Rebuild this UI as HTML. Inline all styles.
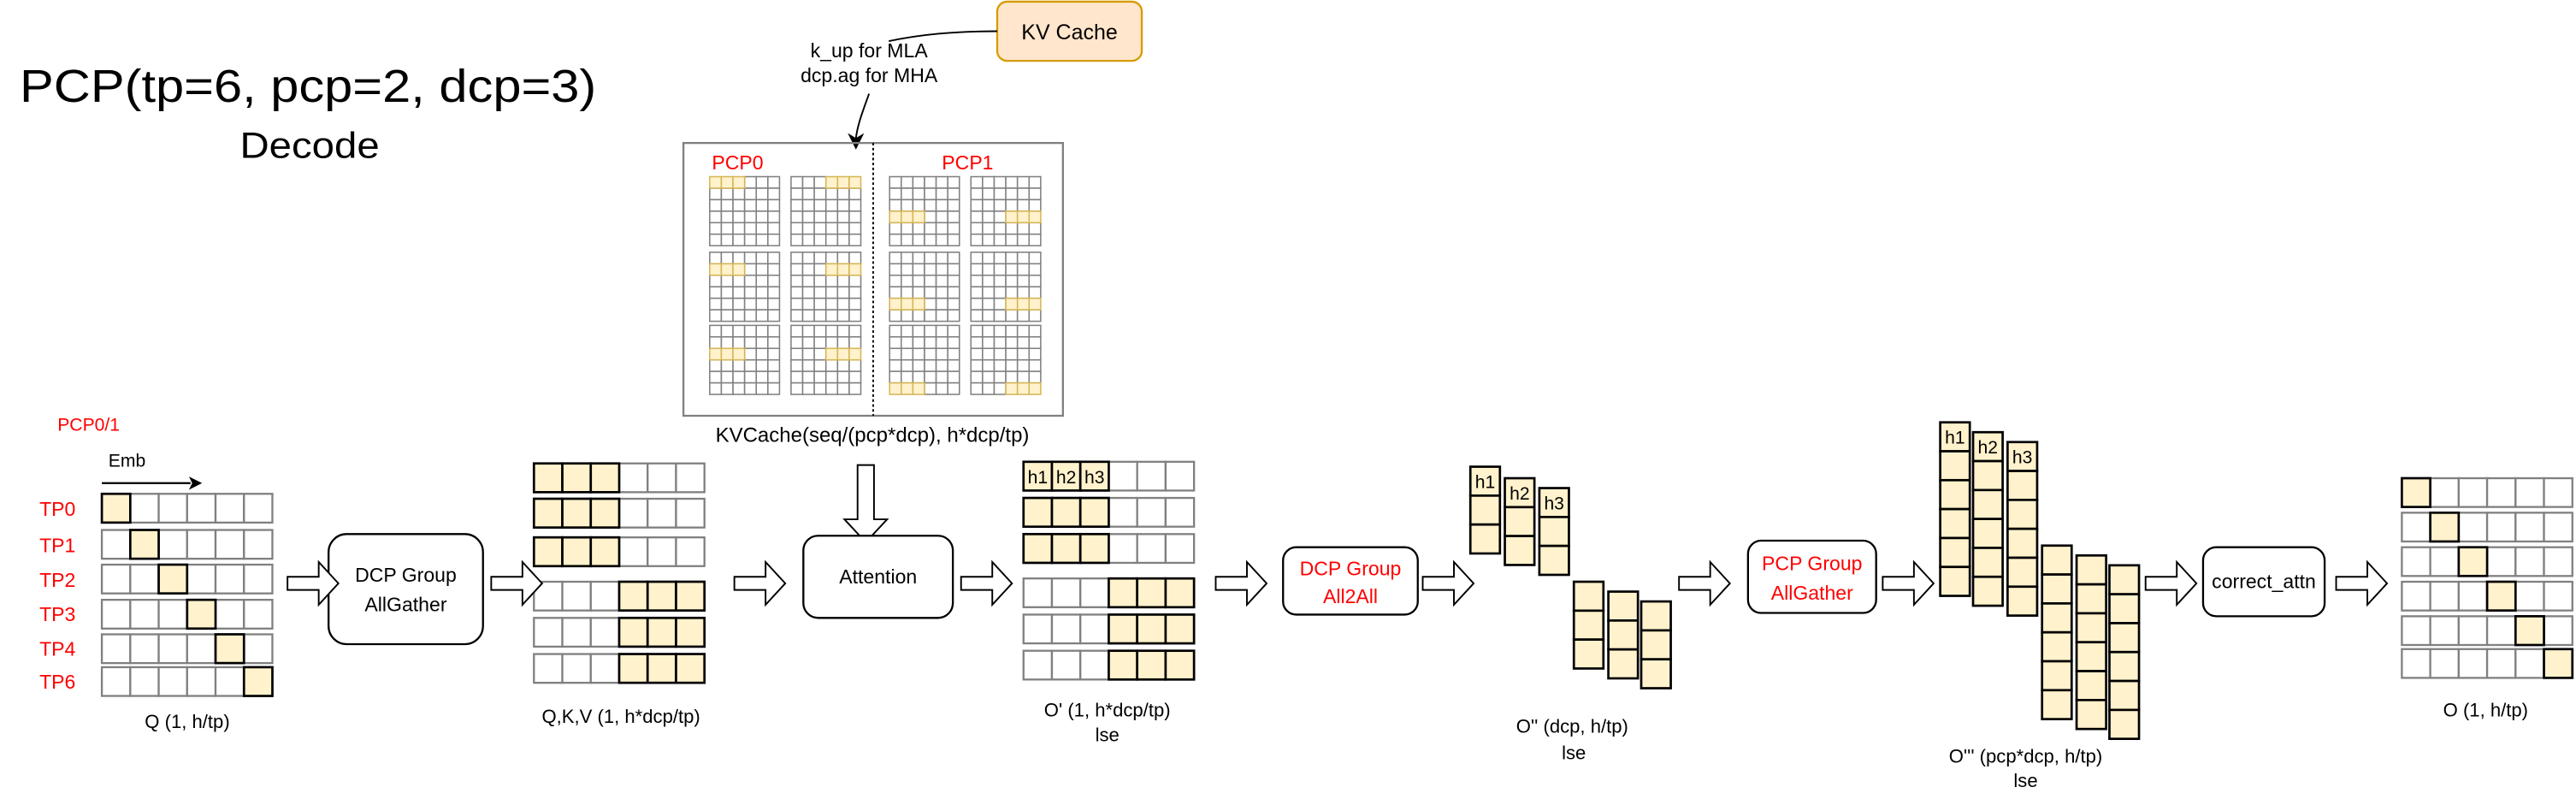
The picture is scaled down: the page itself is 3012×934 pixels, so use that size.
<!DOCTYPE html>
<html><head><meta charset="utf-8"><style>
html,body{margin:0;padding:0;background:#fff;}
svg{display:block;}
text{font-family:"Liberation Sans",Arial,sans-serif;}
</style></head><body>
<svg id="s" width="3012" height="934" viewBox="0 0 1568 486.2" xmlns="http://www.w3.org/2000/svg">
<rect x="0" y="0" width="1568" height="487" fill="#fff"/>
<text x="12" y="62" font-size="28" textLength="351" lengthAdjust="spacingAndGlyphs">PCP(tp=6, pcp=2, dcp=3)</text>
<text x="146" y="96" font-size="22" textLength="85" lengthAdjust="spacingAndGlyphs">Decode</text>

<!-- KV Cache -->
<rect x="607" y="1" width="88" height="36" rx="6" fill="#ffe6cc" stroke="#d79b00" stroke-width="1.2"/>
<text x="651" y="24" font-size="13" text-anchor="middle">KV Cache</text>
<path d="M607,19 C580,19 560,21 541,25" fill="none" stroke="#000" stroke-width="1"/>
<text x="529" y="35" font-size="12" text-anchor="middle">k_up for MLA</text>
<text x="529" y="50" font-size="12" text-anchor="middle">dcp.ag for MHA</text>
<path d="M529,57 C525,68 522,76 521,84" fill="none" stroke="#000" stroke-width="1"/>
<path d="M521,91 L516,81 L521,84 L526,81 Z" fill="#000"/>

<rect x="416" y="87" width="231" height="166" fill="none" stroke="#808080" stroke-width="1.2"/>
<line x1="531.5" y1="87" x2="531.5" y2="253" stroke="#000" stroke-width="1" stroke-dasharray="1.5,1.5"/>
<text x="449" y="103" font-size="12" fill="#ff0000" text-anchor="middle">PCP0</text>
<text x="589" y="103" font-size="12" fill="#ff0000" text-anchor="middle">PCP1</text>
<g id="kv"></g>
<text x="531" y="269" font-size="12.5" text-anchor="middle">KVCache(seq/(pcp*dcp), h*dcp/tp)</text>
<path d="M522,283 L532,283 L532,316 L540,316 L527,330 L514,316 L522,316 Z" fill="#fff" stroke="#000" stroke-width="1"/>

<!-- lower -->
<text x="35" y="262" font-size="11" fill="#ff0000">PCP0/1</text>
<text x="66" y="284" font-size="11">Emb</text>
<line x1="62" y1="294" x2="116" y2="294" stroke="#000" stroke-width="1.2"/>
<path d="M123,294 L115,290 L117,294 L115,298 Z" fill="#000"/>
<g font-size="12" fill="#ff0000">
<text x="24" y="314">TP0</text><text x="24" y="336">TP1</text><text x="24" y="357">TP2</text>
<text x="24" y="378">TP3</text><text x="24" y="399">TP4</text><text x="24" y="419">TP6</text>
</g>
<g id="grids"></g>
<text x="114" y="443" font-size="11.5" text-anchor="middle">Q (1, h/tp)</text>

<rect x="200" y="325" width="94" height="67" rx="11" fill="#fff" stroke="#000" stroke-width="1.2"/>
<text x="247" y="354" font-size="12" text-anchor="middle">DCP Group</text>
<text x="247" y="372" font-size="12" text-anchor="middle">AllGather</text>
<text x="378" y="440" font-size="11.5" text-anchor="middle">Q,K,V (1, h*dcp/tp)</text>

<rect x="489" y="326" width="91" height="50" rx="9" fill="#fff" stroke="#000" stroke-width="1.2"/>
<text x="534.5" y="355" font-size="12" text-anchor="middle">Attention</text>

<text x="674" y="436" font-size="11.5" text-anchor="middle">O' (1, h*dcp/tp)</text>
<text x="674" y="451" font-size="11.5" text-anchor="middle">lse</text>

<rect x="781" y="333" width="82" height="41" rx="8" fill="#fff" stroke="#000" stroke-width="1.2"/>
<text x="822" y="350" font-size="12" fill="#ff0000" text-anchor="middle">DCP Group</text>
<text x="822" y="367" font-size="12" fill="#ff0000" text-anchor="middle">All2All</text>
<text x="957" y="446" font-size="11.5" text-anchor="middle">O'' (dcp, h/tp)</text>
<text x="958" y="462" font-size="11.5" text-anchor="middle">lse</text>

<rect x="1064" y="329" width="78" height="44" rx="8" fill="#fff" stroke="#000" stroke-width="1.2"/>
<text x="1103" y="347" font-size="12" fill="#ff0000" text-anchor="middle">PCP Group</text>
<text x="1103" y="365" font-size="12" fill="#ff0000" text-anchor="middle">AllGather</text>
<text x="1233" y="464" font-size="11.5" text-anchor="middle">O''' (pcp*dcp, h/tp)</text>
<text x="1233" y="479" font-size="11.5" text-anchor="middle">lse</text>

<rect x="1341" y="333" width="74" height="42" rx="8" fill="#fff" stroke="#000" stroke-width="1.2"/>
<text x="1378" y="358" font-size="12" text-anchor="middle">correct_attn</text>
<text x="1513" y="436" font-size="11.5" text-anchor="middle">O (1, h/tp)</text>
<g id="arrows"></g>
</svg>
<script>
var NS="http://www.w3.org/2000/svg";
function R(p,x,y,w,h,f,s,sw){var r=document.createElementNS(NS,"rect");r.setAttribute("x",x);r.setAttribute("y",y);r.setAttribute("width",w);r.setAttribute("height",h);r.setAttribute("fill",f);r.setAttribute("stroke",s);r.setAttribute("stroke-width",sw);p.appendChild(r);}
function T(p,x,y,t){var e=document.createElementNS(NS,"text");e.setAttribute("x",x);e.setAttribute("y",y);e.setAttribute("font-size","11");e.setAttribute("text-anchor","middle");e.textContent=t;p.appendChild(e);}
var Y="#fff2cc";
var kv=document.getElementById("kv");
var gx=[432,481.5,541.5,591],gy=[107.5,153.5,198],cw=7.08,ch=7.0;
for(var gc=0;gc<4;gc++)for(var gr=0;gr<3;gr++){
 var hr=(gc<2?gr:gr+3), hc0=(gc%2==0?0:3);
 for(var r=0;r<6;r++)for(var c=0;c<6;c++){
  var h=(r==hr&&c>=hc0&&c<hc0+3);
  if(!h)R(kv,gx[gc]+c*cw,gy[gr]+r*ch,cw,ch,"#fff","#808080",0.8);
 }
 for(var c=hc0;c<hc0+3;c++)R(kv,gx[gc]+c*cw,gy[gr]+hr*ch,cw,ch,Y,"#d6b656",0.8);
}
var g=document.getElementById("grids");
function rowGrid(x0,tops,hl,labels){
 var cw=17.3,h=17.5;
 tops.forEach(function(t,i){
  for(var c=0;c<6;c++)R(g,x0+c*cw,t,cw,h,"#fff","#808080",1.2);
  hl(i).forEach(function(c){R(g,x0+c*cw,t,cw,h,Y,"#000",1.4);});
 });
 if(labels)labels.forEach(function(l,c){T(g,x0+c*cw+cw/2,tops[0]+13,l);});
}
var qt=[300.5,322.5,343.6,365,386,406];
rowGrid(62,qt,function(i){return [i];});
var kt=[282,303.5,327,354,376,398];
rowGrid(325,kt,function(i){return i<3?[0,1,2]:[3,4,5];});
var ot=[281,303,325,352,374,396];
rowGrid(623,ot,function(i){return i<3?[0,1,2]:[3,4,5];},["h1","h2","h3"]);
var ft=[291,312,333,354,375,395];
rowGrid(1462,ft,function(i){return [i];});
function col(x,top,n,lab){var h=17.6;for(var k=0;k<n;k++)R(g,x,top+k*h,18,h,Y,"#000",1.4);if(lab)T(g,x+9,top+13,lab);}
col(895,284,3,"h1");col(916,291,3,"h2");col(937,297,3,"h3");
col(958,354,3);col(979,360,3);col(999,366,3);
col(1181,257,6,"h1");col(1201,263,6,"h2");col(1222,269,6,"h3");
col(1243,332,6);col(1264,338,6);col(1284,344,6);
var a=document.getElementById("arrows");
[[175,355],[299,355],[447,355],[585,355],[740,355],[866,355],[1022,355],[1146,355],[1306,355],[1422,355]].forEach(function(p){
 var x=p[0],y=p[1],L=31;
 var d="M"+x+","+(y-4)+" L"+(x+L-12)+","+(y-4)+" L"+(x+L-12)+","+(y-13)+" L"+(x+L)+","+y+" L"+(x+L-12)+","+(y+13)+" L"+(x+L-12)+","+(y+4)+" L"+x+","+(y+4)+" Z";
 var e=document.createElementNS(NS,"path");e.setAttribute("d",d);e.setAttribute("fill","#fff");e.setAttribute("stroke","#000");e.setAttribute("stroke-width","1");a.appendChild(e);
});
</script>
</body></html>
